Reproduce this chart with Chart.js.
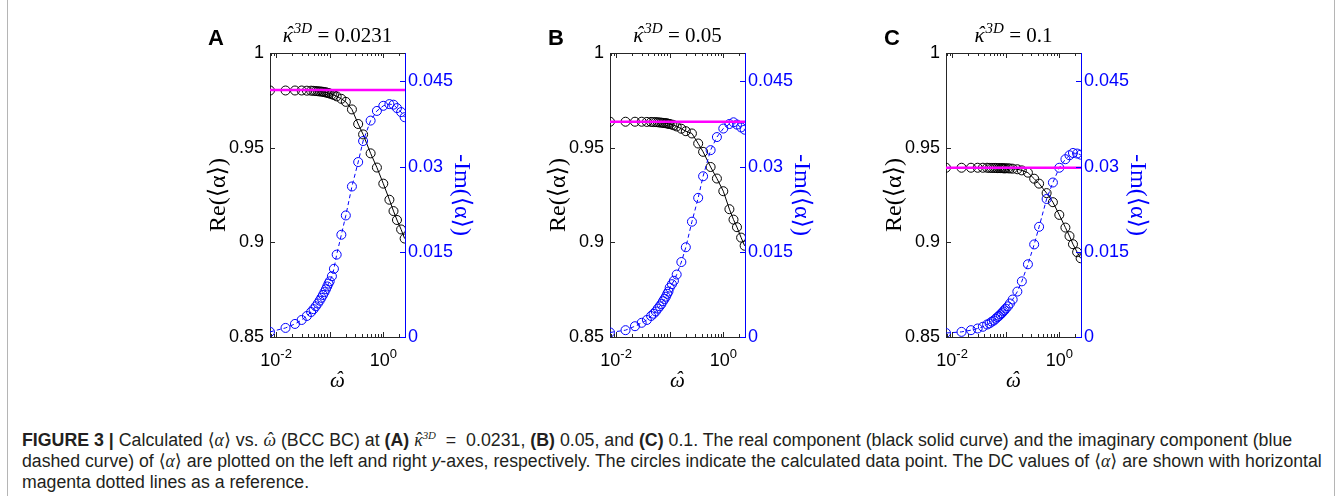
<!DOCTYPE html>
<html>
<head>
<meta charset="utf-8">
<script src="https://cdn.jsdelivr.net/npm/chart.js@4.4.1/dist/chart.umd.min.js"></script>
<style>
  body { margin: 0; background: #fff; width: 1341px; height: 496px; overflow: hidden; position: relative; font-family: "Liberation Sans", Arial, sans-serif; }
  .frame { position: absolute; left: 7px; top: -2px; width: 1326px; height: 500px; border-left: 1px solid #b5b5b5; border-right: 1px solid #b5b5b5; }
  .panel { position: absolute; top: 0; width: 300px; height: 400px; }
  #caption { position: absolute; left: 22px; top: 430px; font-size: 18px; line-height: 21px; color: #231f20; }
  #caption div { white-space: nowrap; width: max-content; transform-origin: 0 0; }
  #caption .m { font-family: "Liberation Serif", "DejaVu Serif", serif; }
  #caption sup { font-size: 11px; vertical-align: 7px; line-height: 0; }
  #caption .hat { position: relative; display: inline-block; }
  #caption .acc { position: absolute; left: 1px; top: -1px; width: 100%; text-align: center; font-style: normal; }
</style>
</head>
<body>
<div class="frame"></div>
<div class="panel" style="left:180px"><canvas id="chartA" width="300" height="400"></canvas></div>
<div class="panel" style="left:520px"><canvas id="chartB" width="300" height="400"></canvas></div>
<div class="panel" style="left:856px"><canvas id="chartC" width="300" height="400"></canvas></div>

<div id="caption">
  <div><b>FIGURE 3 |</b> Calculated <span class="m">⟨<i>α</i>⟩</span> vs. <span class="m hat"><i>ω</i><span class="acc">ˆ</span></span> (BCC BC) at <b>(A)</b> <span class="m"><span class="hat"><i>κ</i><span class="acc">ˆ</span></span><sup><i>3D</i></sup></span> &nbsp;=&nbsp; 0.0231, <b>(B)</b> 0.05, and <b>(C)</b> 0.1. The real component (black solid curve) and the imaginary component (blue</div>
  <div>dashed curve) of <span class="m">⟨<i>α</i>⟩</span> are plotted on the left and right <i>y</i>-axes, respectively. The circles indicate the calculated data point. The DC values of <span class="m">⟨<i>α</i>⟩</span> are shown with horizontal</div>
  <div>magenta dotted lines as a reference.</div>
</div>

<script>
// frequency samples (shared by all three panels)
const omega = [0.0077, 0.015, 0.0225, 0.03, 0.0375, 0.045, 0.05, 0.055, 0.06, 0.065, 0.07, 0.075, 0.08, 0.085, 0.09, 0.095, 0.1,
  0.11, 0.12, 0.135, 0.165, 0.2, 0.26, 0.34, 0.42, 0.58, 0.76, 1.0, 1.3, 1.55, 1.8, 2.15, 2.5];

// panel A, kappa = 0.0231
const reA = [0.9802, 0.9802, 0.9802, 0.9802, 0.9801, 0.9801, 0.9800, 0.9799, 0.9798, 0.9797, 0.9796, 0.9795, 0.9793, 0.9792, 0.9790, 0.9788, 0.9786,
  0.9782, 0.9778, 0.9771, 0.9758, 0.9742, 0.9702, 0.9625, 0.9570, 0.9470, 0.9395, 0.9310, 0.9225, 0.9165, 0.9118, 0.9068, 0.9020];
const imA = [0.0009, 0.0016, 0.0023, 0.0030, 0.0037, 0.0044, 0.0049, 0.0054, 0.0059, 0.0064, 0.0069, 0.0074, 0.0079, 0.0084, 0.0089, 0.0094, 0.0098,
  0.0107, 0.0120, 0.0145, 0.0180, 0.0214, 0.0265, 0.0308, 0.0345, 0.0381, 0.0398, 0.0407, 0.0410, 0.0409, 0.0403, 0.0396, 0.0387];

// panel B, kappa = 0.05
const reB = [0.9637, 0.9637, 0.9637, 0.9637, 0.9636, 0.9636, 0.9635, 0.9635, 0.9634, 0.9633, 0.9632, 0.9631, 0.9630, 0.9629, 0.9628, 0.9626, 0.9625,
  0.9622, 0.9618, 0.9612, 0.9600, 0.9587, 0.9575, 0.9522, 0.9478, 0.9398, 0.9337, 0.9270, 0.9175, 0.9120, 0.9080, 0.9025, 0.8982];
const imB = [0.0008, 0.0012, 0.0019, 0.0025, 0.0030, 0.0037, 0.0041, 0.0045, 0.0050, 0.0054, 0.0058, 0.0063, 0.0067, 0.0071, 0.0076, 0.0080, 0.0087,
  0.0093, 0.0099, 0.0110, 0.0132, 0.0158, 0.0203, 0.0245, 0.0283, 0.0329, 0.0352, 0.0367, 0.0375, 0.0378, 0.0374, 0.0369, 0.0365];

// panel C, kappa = 0.1
const reC = [0.9394, 0.9394, 0.9394, 0.9394, 0.9394, 0.9394, 0.9393, 0.9393, 0.9393, 0.9393, 0.9392, 0.9392, 0.9392, 0.9392, 0.9391, 0.9391, 0.9391,
  0.9391, 0.9390, 0.9389, 0.9386, 0.9380, 0.9368, 0.9336, 0.9310, 0.9260, 0.9212, 0.9145, 0.9078, 0.9033, 0.8990, 0.8948, 0.8916];
const imC = [0.0007, 0.0009, 0.0012, 0.0015, 0.0018, 0.0022, 0.0024, 0.0027, 0.0029, 0.0032, 0.0035, 0.0037, 0.0040, 0.0042, 0.0045, 0.0047, 0.0050,
  0.0054, 0.0059, 0.0066, 0.0080, 0.0098, 0.0128, 0.0163, 0.0194, 0.0243, 0.0272, 0.0298, 0.0313, 0.0320, 0.0324, 0.0323, 0.0321];

// DC values (magenta reference lines)
const dcValues = [0.9805, 0.9637, 0.9394];
const panelLetters = ["A", "B", "C"];
const kappaLabels = ["0.0231", "0.05", "0.1"];

// axes
const xMin = 0.0077, xMax = 2.54;
const xTickValues = [0.008, 0.009, 0.01, 0.02, 0.03, 0.04, 0.05, 0.06, 0.07, 0.08, 0.09,
  0.1, 0.2, 0.3, 0.4, 0.5, 0.6, 0.7, 0.8, 0.9, 1, 2];
const xLabelValues = [0.01, 1];
const reTicks = [0.85, 0.9, 0.95, 1];
const imTicks = [0, 0.015, 0.03, 0.045];

const BLUE = "#0000ff";
const MAGENTA = "#ff00ff";
const SANS = '"Liberation Sans", Arial, sans-serif';
const SERIF = '"Liberation Serif", "DejaVu Serif", serif';

Chart.defaults.font.family = SANS;
Chart.defaults.color = "#000";

// letter with a circumflex drawn over it, returns the advance width
function hatted(ctx, ch, x, y, font) {
  ctx.font = font;
  const w = ctx.measureText(ch).width;
  ctx.textAlign = "left";
  ctx.fillText(ch, x, y);
  ctx.textAlign = "center";
  ctx.fillText("ˆ", x + w / 2 + 1.5, y - 1);
  ctx.textAlign = "left";
  return w;
}

// MATLAB-like box: inward ticks, top edge, x labels with exponents, panel title
const panelDecor = {
  id: "panelDecor",
  afterDraw(chart, args, opts) {
    const { ctx, chartArea: a, scales } = chart;
    ctx.save();
    ctx.lineWidth = 1;
    ctx.strokeStyle = "#262626";
    ctx.beginPath();
    ctx.moveTo(a.left, a.top + 0.5);
    ctx.lineTo(a.right, a.top + 0.5);
    ctx.stroke();

    scales.x.ticks.forEach(t => {
      const px = Math.round(scales.x.getPixelForValue(t.value)) + 0.5;
      const e = Math.log10(t.value);
      const len = Math.abs(e - Math.round(e)) < 1e-6 ? 5 : 3;
      ctx.beginPath();
      ctx.moveTo(px, a.bottom);
      ctx.lineTo(px, a.bottom - len);
      ctx.moveTo(px, a.top);
      ctx.lineTo(px, a.top + len);
      ctx.stroke();
    });

    scales.y.ticks.forEach(t => {
      const py = Math.round(scales.y.getPixelForValue(t.value)) + 0.5;
      ctx.beginPath();
      ctx.moveTo(a.left, py);
      ctx.lineTo(a.left + 5, py);
      ctx.stroke();
    });

    ctx.strokeStyle = BLUE;
    scales.y1.ticks.forEach(t => {
      const py = Math.round(scales.y1.getPixelForValue(t.value)) + 0.5;
      ctx.beginPath();
      ctx.moveTo(a.right, py);
      ctx.lineTo(a.right - 5, py);
      ctx.stroke();
    });

    // x tick labels 10^n
    ctx.fillStyle = "#000";
    ctx.textBaseline = "alphabetic";
    ctx.textAlign = "left";
    xLabelValues.forEach(v => {
      const px = scales.x.getPixelForValue(v);
      const exp = String(Math.round(Math.log10(v)));
      ctx.font = "18px " + SANS;
      const w1 = ctx.measureText("10").width;
      ctx.font = "13px " + SANS;
      const w2 = ctx.measureText(exp).width;
      const x0 = px - (w1 + w2) / 2;
      ctx.font = "18px " + SANS;
      ctx.fillText("10", x0, a.bottom + 29);
      ctx.font = "13px " + SANS;
      ctx.fillText(exp, x0 + w1, a.bottom + 21);
    });

    // x axis title: omega hat
    ctx.font = "italic 21px " + SERIF;
    const wOm = ctx.measureText("ω").width;
    hatted(ctx, "ω", (a.left + a.right) / 2 - wOm / 2, a.bottom + 50, "italic 21px " + SERIF);

    // panel letter
    ctx.font = "bold 22px " + SANS;
    ctx.textAlign = "center";
    ctx.fillText(opts.letter, a.left - 54, 45);

    // title: kappa-hat^{3D} = value
    const cx = (a.left + a.right) / 2;
    const fMain = "21px " + SERIF;
    const fIt = "italic 21px " + SERIF;
    const fSup = "italic 15px " + SERIF;
    const tail = " = " + opts.kappa;
    ctx.font = fIt;
    const w1 = ctx.measureText("κ").width;
    ctx.font = fSup;
    const w2 = ctx.measureText("3D").width + 1;
    ctx.font = fMain;
    const w3 = ctx.measureText(tail).width;
    let x = cx - (w1 + w2 + w3) / 2;
    x += hatted(ctx, "κ", x, 42, fIt);
    ctx.font = fSup;
    ctx.fillText("3D", x + 1, 33);
    x += w2;
    ctx.font = fMain;
    ctx.fillText(tail, x, 42);
    ctx.restore();
  }
};

function pointsOf(values) {
  return omega.map((w, i) => ({ x: w, y: values[i] }));
}

function makePanel(canvasId, re, im, dc, letter, kappa) {
  new Chart(document.getElementById(canvasId), {
    type: "line",
    data: {
      datasets: [
        {
          label: "DC",
          data: [{ x: xMin, y: dc }, { x: xMax, y: dc }],
          yAxisID: "y",
          borderColor: MAGENTA,
          borderWidth: 2.5,
          pointRadius: 0,
          order: 0
        },
        {
          label: "-Im",
          data: pointsOf(im),
          yAxisID: "y1",
          borderColor: BLUE,
          borderWidth: 1,
          borderDash: [4, 3],
          pointRadius: 4.5,
          pointBackgroundColor: "rgba(0,0,0,0)",
          pointBorderColor: BLUE,
          pointBorderWidth: 1,
          tension: 0,
          order: 1
        },
        {
          label: "Re",
          data: pointsOf(re),
          yAxisID: "y",
          borderColor: "#000",
          borderWidth: 1,
          pointRadius: 4.5,
          pointBackgroundColor: "rgba(0,0,0,0)",
          pointBorderColor: "#000",
          pointBorderWidth: 1,
          tension: 0,
          order: 2
        }
      ]
    },
    options: {
      responsive: false,
      animation: false,
      events: [],
      layout: { padding: { top: 53, left: 0, right: 0, bottom: 0 } },
      plugins: {
        legend: { display: false },
        tooltip: { enabled: false },
        panelDecor: { letter, kappa }
      },
      scales: {
        x: {
          type: "logarithmic",
          min: xMin,
          max: xMax,
          grid: { display: false, drawTicks: false },
          border: { display: true, color: "#262626", width: 1 },
          ticks: { display: false },
          afterBuildTicks: s => { s.ticks = xTickValues.map(v => ({ value: v })); },
          afterFit: s => { s.height = 63; }
        },
        y: {
          type: "linear",
          position: "left",
          min: 0.85,
          max: 1,
          grid: { display: false, drawTicks: false },
          border: { display: true, color: "#262626", width: 1 },
          afterBuildTicks: s => { s.ticks = reTicks.map(v => ({ value: v })); },
          afterFit: s => { s.width = 90; },
          ticks: { color: "#000", font: { size: 18 }, padding: 6, callback: v => String(v) },
          title: {
            display: true,
            text: "Re(⟨α⟩)",
            color: "#000",
            font: { family: SERIF, size: 24 },
            padding: { top: 24, bottom: 0 }
          }
        },
        y1: {
          type: "linear",
          position: "right",
          min: 0,
          max: 0.05,
          grid: { display: false, drawTicks: false },
          border: { display: true, color: BLUE, width: 1 },
          afterBuildTicks: s => { s.ticks = imTicks.map(v => ({ value: v })); },
          afterFit: s => { s.width = 75; },
          ticks: { color: BLUE, font: { size: 18 }, padding: 3, callback: v => String(v) },
          title: {
            display: true,
            text: "-Im(⟨α⟩)",
            color: BLUE,
            font: { family: SERIF, size: 24 },
            padding: { top: 4, bottom: 0 }
          }
        }
      }
    },
    plugins: [panelDecor]
  });
}

makePanel("chartA", reA, imA, dcValues[0], panelLetters[0], kappaLabels[0]);
makePanel("chartB", reB, imB, dcValues[1], panelLetters[1], kappaLabels[1]);
makePanel("chartC", reC, imC, dcValues[2], panelLetters[2], kappaLabels[2]);

// squeeze caption lines to the condensed width of the original
const capLines = document.querySelectorAll("#caption div");
const capWidths = [1270, 1300, null];
let squeeze = 1;
capLines.forEach((el, i) => {
  if (capWidths[i]) squeeze = capWidths[i] / el.scrollWidth;
  el.style.transform = "scaleX(" + squeeze + ")";
});
</script>
</body>
</html>
